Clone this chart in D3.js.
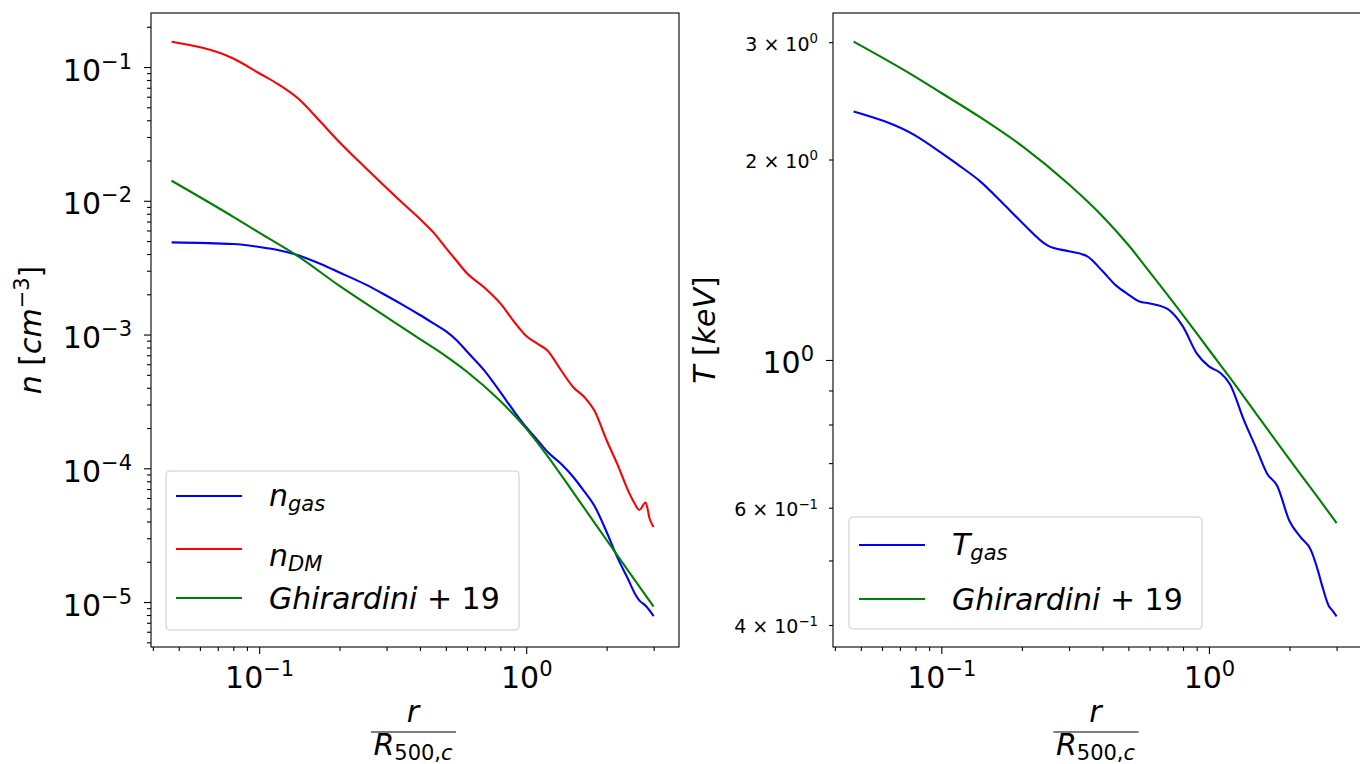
<!DOCTYPE html>
<html>
<head>
<meta charset="utf-8">
<script src="https://cdn.jsdelivr.net/npm/d3@7"></script>
<style>
  body { margin: 0; background: #fff; }
  svg { display: block; font-family: "DejaVu Sans", sans-serif; }
</style>
</head>
<body>
<svg id="chart" width="1360" height="764"></svg>
<script>
// radii (r / R500,c) of the simulated profiles
const simR = [0.047, 0.08, 0.1, 0.115, 0.14, 0.17, 0.2, 0.25, 0.3, 0.35, 0.4, 0.45, 0.5, 0.55, 0.6, 0.7,
  0.8, 0.9, 1.0, 1.1, 1.2, 1.35, 1.5, 1.65, 1.8, 2.0, 2.2, 2.4, 2.55, 2.65, 2.8, 2.9, 3.0];

// gas density [cm^-3]
const nGas = [0.00489, 0.00475, 0.00452, 0.00433, 0.00392, 0.00337, 0.00291, 0.00237, 0.00195, 0.00164,
  0.00140, 0.00121, 0.00106, 0.000902, 0.000746, 0.000533, 0.000371, 0.000267, 0.000203, 0.000163,
  0.000133, 0.000108, 0.0000861, 0.0000671, 0.0000525, 0.0000334, 0.0000213, 0.0000150, 0.0000116,
  0.0000103, 0.00000939, 0.00000863, 0.00000785];

// dark matter density [cm^-3]
const nDM = [0.1545, 0.1158, 0.0899, 0.0766, 0.0581, 0.0388, 0.0274, 0.01766, 0.01246, 0.00933,
  0.00732, 0.00578, 0.00445, 0.00353, 0.00287, 0.00223, 0.00171, 0.00125, 0.000976, 0.000855,
  0.000760, 0.000541, 0.000404, 0.000341, 0.000270, 0.000162, 0.000106, 0.0000690, 0.0000543,
  0.0000488, 0.0000555, 0.0000418, 0.0000364];

// gas temperature [keV]
const tGas = [2.361, 2.172, 2.046, 1.966, 1.853, 1.718, 1.609, 1.485, 1.456, 1.432, 1.360, 1.293,
  1.254, 1.224, 1.216, 1.193, 1.122, 1.023, 0.978, 0.957, 0.919, 0.813, 0.738, 0.675, 0.647,
  0.573, 0.542, 0.519, 0.484, 0.458, 0.428, 0.420, 0.412];

// Ghirardini+19 model
const modelR = [0.047, 0.08, 0.1, 0.14, 0.2, 0.3, 0.4, 0.5, 0.6, 0.8, 1.0, 1.2, 1.5, 2.0, 2.5, 3.0];
const nModel = [0.01413, 0.00759, 0.00578, 0.00384, 0.00231, 0.00135, 0.000925, 0.000690, 0.000527,
  0.000318, 0.000198, 0.000124, 0.0000661, 0.0000291, 0.0000154, 0.00000925];
const tModel = [3.007, 2.662, 2.517, 2.313, 2.096, 1.834, 1.644, 1.488, 1.356, 1.168, 1.036, 0.940,
  0.831, 0.709, 0.629, 0.569];

// tick labels
const xMajorTicks = [0.1, 1];
const xMajorLabels = [["10", "\u22121"], ["10", "0"]];
const nMajorTicks = [1e-1, 1e-2, 1e-3, 1e-4, 1e-5];
const nMajorLabels = [["10", "\u22121"], ["10", "\u22122"], ["10", "\u22123"], ["10", "\u22124"], ["10", "\u22125"]];
const tMajorTicks = [1];
const tMajorLabels = [["10", "0"]];
const tMinorLabelTicks = [0.4, 0.6, 2, 3];
const tMinorLabels = [["4", "\u22121"], ["6", "\u22121"], ["2", "0"], ["3", "0"]];

const FS = 30;        // main font size
const FS_MINOR = 19;  // minor tick labels
const TOP = 13, BOTTOM = 647;

const svg = d3.select("#chart");

// writes a list of text pieces (italic / sub / sup) into a text element
function addRich(textSel, parts, fs, dy0 = 0) {
  let shift = -dy0;
  parts.forEach(p => {
    const target = p.sub ? 0.17 * fs : p.sup ? -0.4 * fs : 0;
    textSel.append("tspan")
      .attr("dy", target - shift)
      .attr("font-size", (p.sub || p.sup) ? fs * 0.7 : fs)
      .attr("font-style", p.it ? "italic" : "normal")
      .text(p.t);
    shift = target;
  });
}

function powerParts(lbl, times) {
  if (times) return [{ t: lbl[0] + " \u00d7 10" }, { t: lbl[1], sup: true }];
  return [{ t: lbl[0] }, { t: lbl[1], sup: true }];
}

function isPow10(d) {
  const l = Math.log10(d);
  return Math.abs(l - Math.round(l)) < 1e-9;
}

function styleAxis(g) {
  g.select(".domain").remove();
  g.selectAll(".tick line").attr("stroke", "#000").attr("stroke-width", 1.1);
  g.attr("font-family", "DejaVu Sans").attr("font-size", FS);
}

function drawPanel(cfg) {
  const x = d3.scaleLog().domain([0.03936, 3.733]).range([cfg.x0, cfg.x1]);
  const y = d3.scaleLog().domain(cfg.yDomain).range([BOTTOM, TOP]);
  const g = svg.append("g");

  // x axis: majors with labels, minors without
  const xMaj = g.append("g").attr("transform", `translate(0,${BOTTOM})`)
    .call(d3.axisBottom(x).tickValues(xMajorTicks).tickSize(7).tickPadding(12).tickSizeOuter(0));
  styleAxis(xMaj);
  xMaj.selectAll(".tick text").each(function (d, i) {
    const t = d3.select(this).text(null).attr("dy", null).attr("fill", "#000");
    addRich(t, powerParts(xMajorLabels[i]), FS, 22);
  });
  const xMin = g.append("g").attr("transform", `translate(0,${BOTTOM})`)
    .call(d3.axisBottom(x).tickValues(x.ticks().filter(d => !isPow10(d))).tickSize(4).tickFormat("").tickSizeOuter(0));
  styleAxis(xMin);

  // y axis
  const yMaj = g.append("g").attr("transform", `translate(${cfg.x0},0)`)
    .call(d3.axisLeft(y).tickValues(cfg.yMajor).tickSize(7).tickPadding(12).tickSizeOuter(0));
  styleAxis(yMaj);
  yMaj.selectAll(".tick text").each(function (d, i) {
    const t = d3.select(this).text(null).attr("dy", null).attr("fill", "#000");
    addRich(t, powerParts(cfg.yMajorLabels[i]), FS, 13);
  });
  const yMinVals = y.ticks().filter(d => !isPow10(d));
  const yMin = g.append("g").attr("transform", `translate(${cfg.x0},0)`)
    .call(d3.axisLeft(y).tickValues(yMinVals).tickSize(4).tickPadding(11).tickSizeOuter(0)
      .tickFormat(d => ""));
  styleAxis(yMin);
  if (cfg.yMinorLabelTicks) {
    yMin.selectAll(".tick text").each(function (d) {
      const k = cfg.yMinorLabelTicks.findIndex(v => Math.abs(v - d) < 1e-9);
      if (k < 0) return;
      const t = d3.select(this).text(null).attr("dy", null).attr("fill", "#000");
      addRich(t, powerParts(cfg.yMinorLabels[k], true), FS_MINOR, 8);
    });
  }

  // curves
  const line = d3.line().x(d => x(d[0])).y(d => y(d[1])).curve(d3.curveMonotoneX);
  cfg.series.forEach(s => {
    g.append("path")
      .datum(s.r.map((r, i) => [r, s.v[i]]))
      .attr("d", line)
      .attr("fill", "none")
      .attr("stroke", s.color)
      .attr("stroke-width", 2.1)
      .attr("stroke-linejoin", "round");
  });

  // frame
  g.append("rect")
    .attr("x", cfg.x0).attr("y", TOP)
    .attr("width", cfg.x1 - cfg.x0).attr("height", BOTTOM - TOP)
    .attr("fill", "none").attr("stroke", "#000").attr("stroke-width", 1.1);

  // legend
  const lg = cfg.legend;
  g.append("rect")
    .attr("x", lg.x).attr("y", lg.y).attr("width", lg.w).attr("height", lg.h)
    .attr("rx", 4)
    .attr("fill", "#fff").attr("fill-opacity", 0.8)
    .attr("stroke", "#cccccc").attr("stroke-width", 1.1);
  cfg.series.forEach((s, i) => {
    const ly = lg.rows[i];
    g.append("line")
      .attr("x1", lg.x + 10).attr("x2", lg.x + 76)
      .attr("y1", ly).attr("y2", ly)
      .attr("stroke", s.color).attr("stroke-width", 2.1);
    const t = g.append("text")
      .attr("x", lg.x + 103).attr("y", ly + s.base)
      .attr("fill", "#000");
    addRich(t, s.label, FS);
  });

  // y label
  const yl = g.append("text")
    .attr("transform", `translate(${cfg.yLabelX},${(TOP + BOTTOM) / 2}) rotate(-90)`)
    .attr("text-anchor", "middle").attr("fill", "#000");
  addRich(yl, cfg.yLabel, FS);

  // x label: r / R_500,c as a fraction
  const cx = (cfg.x0 + cfg.x1) / 2 - 2;
  addRich(g.append("text").attr("x", cx).attr("y", 722).attr("text-anchor", "middle"),
    [{ t: "r", it: true }], FS);
  g.append("line")
    .attr("x1", cx - 42).attr("x2", cx + 43)
    .attr("y1", 732).attr("y2", 732)
    .attr("stroke", "#000").attr("stroke-width", 1.2);
  addRich(g.append("text").attr("x", cx).attr("y", 755).attr("text-anchor", "middle"),
    [{ t: "R", it: true }, { t: "500,", sub: true }, { t: "c", sub: true, it: true }], FS);
}

const ghirLabel = [{ t: "Ghirardini", it: true }, { t: " + 19" }];

drawPanel({
  x0: 151, x1: 679,
  yDomain: [4.613e-6, 0.2535],
  yMajor: nMajorTicks, yMajorLabels: nMajorLabels,
  yLabelX: 41,
  yLabel: [{ t: "n", it: true }, { t: " [" }, { t: "cm", it: true }, { t: "\u22123", sup: true }, { t: "]" }],
  series: [
    { r: simR, v: nGas, color: "#0000ff", base: 10, label: [{ t: "n", it: true }, { t: "gas", it: true, sub: true }] },
    { r: simR, v: nDM, color: "#ff0000", base: 17, label: [{ t: "n", it: true }, { t: "DM", it: true, sub: true }] },
    { r: modelR, v: nModel, color: "#008000", base: 11, label: ghirLabel }
  ],
  legend: { x: 166, y: 471, w: 353, h: 159, rows: [496, 549, 598] }
});

drawPanel({
  x0: 833, x1: 1362,
  yDomain: [0.3707, 3.319],
  yMajor: tMajorTicks, yMajorLabels: tMajorLabels,
  yMinorLabelTicks: tMinorLabelTicks, yMinorLabels: tMinorLabels,
  yLabelX: 715,
  yLabel: [{ t: "T", it: true }, { t: " [" }, { t: "keV", it: true }, { t: "]" }],
  series: [
    { r: simR, v: tGas, color: "#0000ff", base: 10, label: [{ t: "T", it: true }, { t: "gas", it: true, sub: true }] },
    { r: modelR, v: tModel, color: "#008000", base: 11, label: ghirLabel }
  ],
  legend: { x: 849, y: 517, w: 353, h: 112, rows: [545, 599] }
});
</script>
</body>
</html>
